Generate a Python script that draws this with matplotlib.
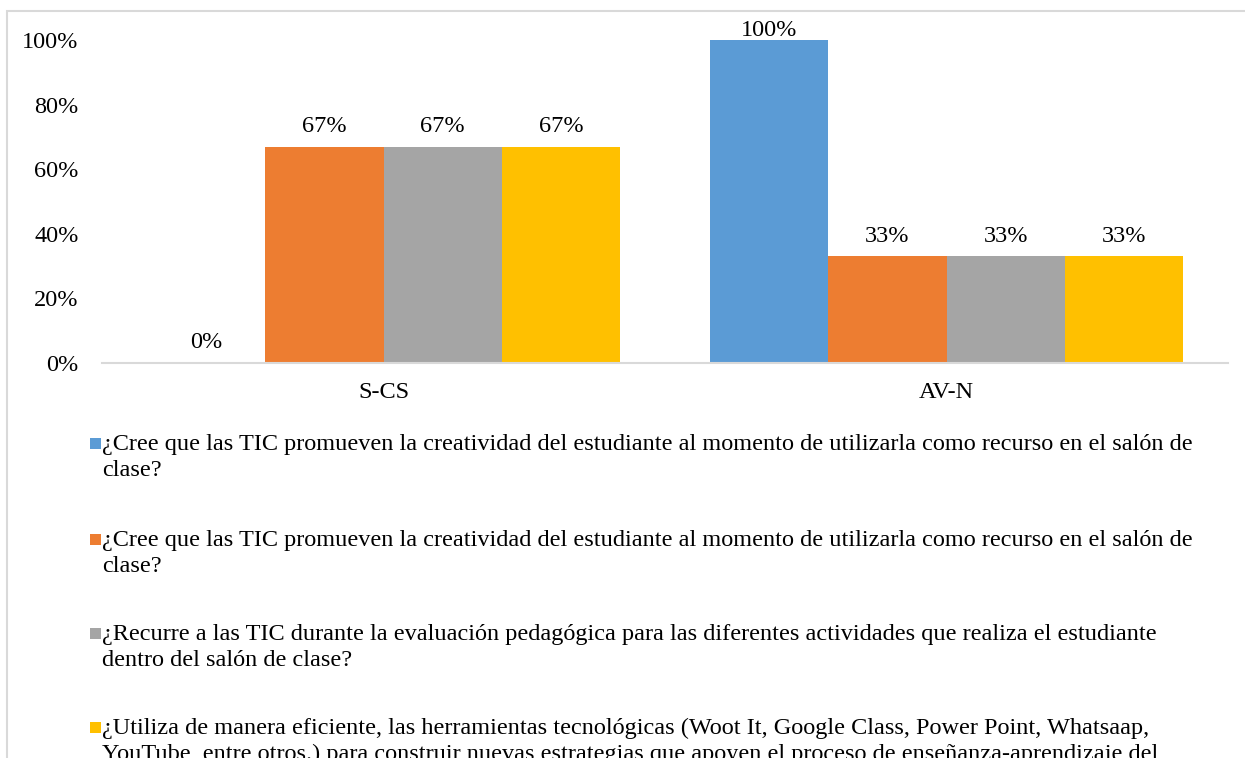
import matplotlib
matplotlib.use("Agg")
import numpy as np
from matplotlib import pyplot as plt
from matplotlib.patches import Rectangle
from matplotlib.ticker import PercentFormatter

categories = ["S-CS", "AV-N"]
series_labels = [
    "¿Cree que las TIC promueven la creatividad del estudiante al momento de utilizarla como recurso en el salón de\nclase?",
    "¿Cree que las TIC promueven la creatividad del estudiante al momento de utilizarla como recurso en el salón de\nclase?",
    "¿Recurre a las TIC durante la evaluación pedagógica para las diferentes actividades que realiza el estudiante\ndentro del salón de clase?",
    "¿Utiliza de manera eficiente, las herramientas tecnológicas (Woot It, Google Class, Power Point, Whatsaap,\nYouTube, entre otros.) para construir nuevas estrategias que apoyen el proceso de enseñanza-aprendizaje del\nestudiante?",
]
series_values = [
    [0.00, 1.00],
    [0.67, 0.33],
    [0.67, 0.33],
    [0.67, 0.33],
]
colors = ["#5B9BD5", "#ED7D31", "#A5A5A5", "#FFC000"]

W, H = 1245, 758
FS = 17.5
plt.rcParams["font.family"] = ["Liberation Serif", "DejaVu Serif"]
plt.rcParams["font.size"] = FS

fig = plt.figure(figsize=(W / 100, H / 100), dpi=100)
ax = fig.add_axes([102 / W, 1 - 363 / H, (1228 - 102) / W, (363 - 40) / H])

# light grey chart frame (only left and top edges are visible in the crop)
fig.patches.append(Rectangle((7 / W, -0.2), 1.2, 1.2 - 11 / H, transform=fig.transFigure,
                             fill=False, edgecolor="#d9d9d9", linewidth=1.5))

x = np.arange(len(categories))
width = 0.21
n = len(series_values)
for i, (vals, col) in enumerate(zip(series_values, colors)):
    pos = x + (i - (n - 1) / 2) * width
    ax.bar(pos, vals, width=width, color=col, linewidth=0)
    for px, v in zip(pos, vals):
        pad = -1 if v >= 1.0 else 7
        ax.annotate(f"{v:.0%}", (px, v), xytext=(0, pad), textcoords="offset points",
                    ha="center", va="bottom", fontsize=FS, annotation_clip=False)

ax.set_xlim(-0.5, 1.5)
ax.set_ylim(0, 1.0)
ax.set_yticks(np.arange(0, 1.01, 0.2))
ax.yaxis.set_major_formatter(PercentFormatter(1.0, decimals=0))
ax.set_xticks(x)
ax.set_xticklabels(categories)
ax.tick_params(axis="y", length=0, pad=17)
ax.tick_params(axis="x", length=0, pad=14)
for s in ["top", "right", "left"]:
    ax.spines[s].set_visible(False)
ax.spines["bottom"].set_color("#d9d9d9")
ax.spines["bottom"].set_linewidth(1.5)

# legend below the plot, one entry per block
first_line_y = [443, 539, 633, 727]
for lab, col, yc in zip(series_labels, colors, first_line_y):
    fig.patches.append(Rectangle((90 / W, 1 - (yc + 5.5) / H), 11 / W, 11 / H,
                                 transform=fig.transFigure, facecolor=col, edgecolor="none"))
    fig.text(102 / W, 1 - (yc - 9) / H, lab, ha="left", va="top",
             fontsize=FS, linespacing=1.29)

fig.savefig("out.png", dpi=100)
